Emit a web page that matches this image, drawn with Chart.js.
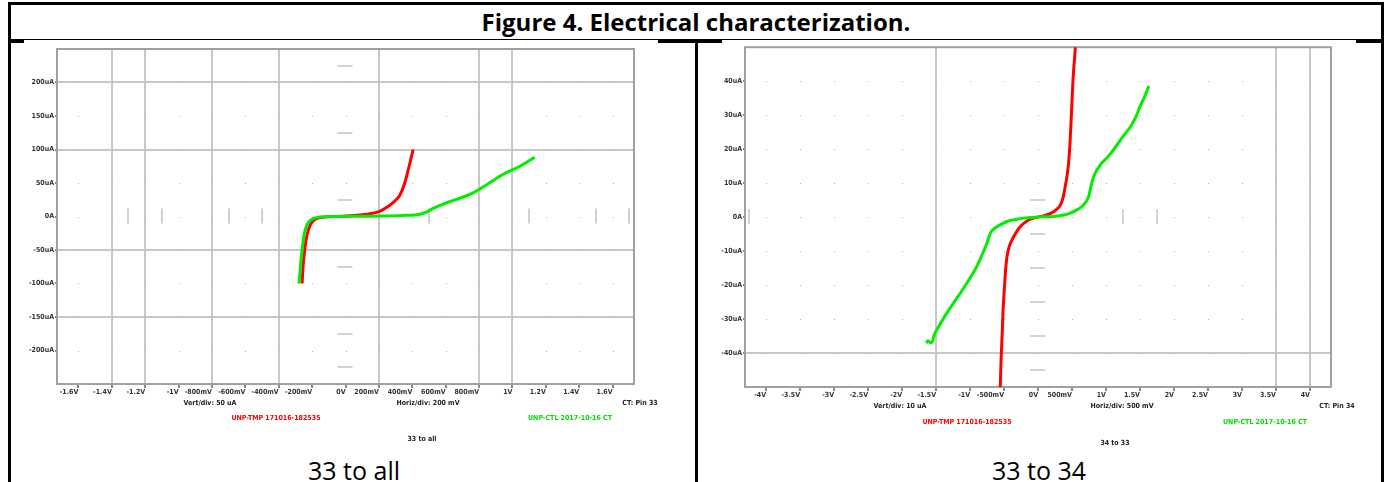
<!DOCTYPE html>
<html>
<head>
<meta charset="utf-8">
<script src="https://cdn.jsdelivr.net/npm/chart.js@4.4.1/dist/chart.umd.min.js"></script>
<style>
  html, body { margin: 0; padding: 0; background: #fff; }
  body { position: relative; width: 1387px; height: 482px; overflow: hidden; }
  .rule { position: absolute; background: #000; }
  .title { position: absolute; left: 11px; width: 1370px; top: 5px; height: 34px; line-height: 34px;
           text-align: center; font: bold 24px 'Open Sans', sans-serif; color: #000; }
  .note { position: absolute; transform: translateX(-50%); white-space: nowrap; line-height: 8px;
          font: bold 7px 'Liberation Sans Narrow', 'DejaVu Sans Condensed', sans-serif; color: #222; }
  .caption { position: absolute; transform: translateX(-50%); white-space: nowrap; line-height: 28px;
             font: 25px 'Open Sans', sans-serif; color: #000; }
  canvas { position: absolute; }
</style>
</head>
<body>
<div class="rule" style="left:8px; top:2px; width:1376px; height:3px"></div>
<div class="rule" style="left:8px; top:2px; width:3px; height:480px"></div>
<div class="rule" style="left:1381px; top:2px; width:3px; height:480px"></div>
<div class="rule" style="left:8px; top:39px; width:1376px; height:1px"></div>
<div class="rule" style="left:8px; top:40px; width:16px; height:3px"></div>
<div class="rule" style="left:658px; top:40px; width:64px; height:3px"></div>
<div class="rule" style="left:1356px; top:40px; width:28px; height:3px"></div>
<div class="rule" style="left:695px; top:40px; width:3px; height:442px"></div>
<div class="title">Figure 4. Electrical characterization.</div>

<canvas id="allChart" width="684" height="398" style="left:10px; top:42px"></canvas>
<canvas id="pinChart" width="680" height="398" style="left:699px; top:42px"></canvas>

<div class="note" style="left:210px; top:399px">Vert/div: 50 uA</div>
<div class="note" style="left:428px; top:399px">Horiz/div: 200 mV</div>
<div class="note" style="left:640px; top:399px">CT: Pin 33</div>
<div class="note" style="left:276px; top:414px; color:#ff0000">UNP-TMP 171016-182535</div>
<div class="note" style="left:570px; top:414px; color:#00dd00">UNP-CTL 2017-10-16 CT</div>
<div class="note" style="left:422px; top:435px">33 to all</div>

<div class="note" style="left:900px; top:402px">Vert/div: 10 uA</div>
<div class="note" style="left:1122px; top:402px">Horiz/div: 500 mV</div>
<div class="note" style="left:1337px; top:402px">CT: Pin 34</div>
<div class="note" style="left:967px; top:418px; color:#ff0000">UNP-TMP 171016-182535</div>
<div class="note" style="left:1265px; top:418px; color:#00dd00">UNP-CTL 2017-10-16 CT</div>
<div class="note" style="left:1115px; top:439px">34 to 33</div>

<div class="caption" style="left:354px; top:453px">33 to all</div>
<div class="caption" style="left:1039px; top:453px">33 to 34</div>

<script>
// 33 to all: voltage (V) and current (uA)
const allTmpV = [-0.26, -0.254, -0.244, -0.23, -0.21, -0.184, -0.134, -0.054, 0.046, 0.146, 0.205, 0.245, 0.285, 0.325, 0.355, 0.381, 0.405]
const allTmpI = [-100, -74, -49, -27, -12, -4.5, -1, 0, 1.4, 4, 7.8, 13.3, 20.7, 31.6, 50, 75, 100]
const allCtlV = [-0.278, -0.27, -0.26, -0.248, -0.23, -0.204, -0.164, -0.054, 0.146, 0.345, 0.445, 0.485, 0.525, 0.585, 0.645, 0.745, 0.824, 0.944, 1.044, 1.134]
const allCtlI = [-100, -74, -49, -27, -12, -4.5, -1, 0, 0.5, 1.5, 3.5, 6.5, 12, 18.5, 24, 33, 44, 63, 75, 88.5]

// 33 to 34
const pinTmpV = [-0.555, -0.543, -0.53, -0.515, -0.496, -0.476, -0.456, -0.42, -0.382, -0.32, -0.26, -0.15, -0.065, 0.05, 0.18, 0.27, 0.33, 0.37, 0.40, 0.43, 0.45, 0.47, 0.485, 0.50, 0.515, 0.535, 0.55]
const pinTmpI = [-50, -42, -36, -28, -21.4, -15.5, -11.6, -8.5, -6.7, -4.5, -2.8, -1, -0.3, 0.2, 1, 2.2, 3.6, 5.8, 9, 12.5, 15.9, 21.5, 27.6, 34, 40.4, 46, 50]
const pinCtlV = [-1.643, -1.62, -1.59, -1.56, -1.525, -1.43, -1.34, -1.24, -1.143, -1.02, -0.9, -0.82, -0.75, -0.70, -0.63, -0.55, -0.456, -0.33, -0.21, 0, 0.23, 0.38, 0.475, 0.58, 0.67, 0.745, 0.79, 0.84, 0.916, 1.03, 1.11, 1.23, 1.36, 1.44, 1.50, 1.57, 1.63]
const pinCtlI = [-37.1, -36.4, -36.9, -36.9, -34.6, -31.2, -28.2, -25.2, -22.4, -18.6, -14.5, -11, -7.6, -4.7, -3.2, -2.2, -1.3, -0.7, -0.3, 0, 0.2, 0.6, 1.2, 2.2, 3.6, 6, 10, 12.9, 15.4, 17.8, 19.8, 23.2, 26.6, 29.5, 32.5, 35.5, 38.6]

// tick values and labels
const allXTicks = [-1.6, -1.4, -1.2, -1, -0.8, -0.6, -0.4, -0.2, 0, 0.2, 0.4, 0.6, 0.8, 1, 1.2, 1.4, 1.6]
const allXLabels = ['-1.6V', '-1.4V', '-1.2V', '-1V', '-800mV', '-600mV', '-400mV', '-200mV', '0V', '200mV', '400mV', '600mV', '800mV', '1V', '1.2V', '1.4V', '1.6V']
const allYTicks = [-200, -150, -100, -50, 0, 50, 100, 150, 200]
const allYLabels = ['-200uA', '-150uA', '-100uA', '-50uA', '0A', '50uA', '100uA', '150uA', '200uA']

const pinXTicks = [-4, -3.5, -3, -2.5, -2, -1.5, -1, -0.5, 0, 0.5, 1, 1.5, 2, 2.5, 3, 3.5, 4]
const pinXLabels = ['-4V', '-3.5V', '-3V', '-2.5V', '-2V', '-1.5V', '-1V', '-500mV', '0V', '500mV', '1V', '1.5V', '2V', '2.5V', '3V', '3.5V', '4V']
const pinYTicks = [-40, -30, -20, -10, 0, 10, 20, 30, 40]
const pinYLabels = ['-40uA', '-30uA', '-20uA', '-10uA', '0A', '10uA', '20uA', '30uA', '40uA']

const tickFont = { family: "'Liberation Sans Narrow', 'DejaVu Sans Condensed', sans-serif", size: 7, weight: 'bold' }

function points(xs, ys) {
  return xs.map((x, i) => ({ x: x, y: ys[i] }))
}

function near(list, v) {
  return list.some(g => Math.abs(g - v) < 1e-6)
}

// screen furniture of the curve tracer: dots, centre dashes, frame
function makeDecor(s) {
  return {
    id: 'decor',
    beforeDatasetsDraw(chart) {
      const { ctx, chartArea: a, scales: { x, y } } = chart
      ctx.save()
      ctx.fillStyle = '#b0b0b0'
      for (const xv of s.xTicks) {
        for (const yv of s.yTicks) {
          ctx.fillRect(Math.round(x.getPixelForValue(xv)), Math.round(y.getPixelForValue(yv)), 1, 1)
        }
      }
      const x0 = x.getPixelForValue(0)
      const y0 = y.getPixelForValue(0)
      ctx.strokeStyle = '#c4c4c4'
      ctx.lineWidth = 1.5
      ctx.beginPath()
      s.hDash.forEach(v => {
        const py = Math.round(y.getPixelForValue(v))
        ctx.moveTo(x0 - 8, py)
        ctx.lineTo(x0 + 7, py)
      })
      s.vDash.forEach(v => {
        const px = Math.round(x.getPixelForValue(v))
        ctx.moveTo(px, y0 - 8)
        ctx.lineTo(px, y0 + 7)
      })
      ctx.stroke()
      ctx.strokeStyle = '#a0a0a0'
      ctx.lineWidth = 2
      ctx.strokeRect(a.left, a.top, a.right - a.left, a.bottom - a.top)
      ctx.restore()
    }
  }
}

function traceChart(id, s) {
  return new Chart(document.getElementById(id), {
    type: 'scatter',
    data: {
      datasets: [
        {
          label: 'UNP-CTL 2017-10-16 CT',
          data: points(s.ctlV, s.ctlI),
          borderColor: '#00ee00',
          backgroundColor: '#00ee00',
          showLine: true,
          borderWidth: 3,
          pointRadius: 0,
          cubicInterpolationMode: 'monotone'
        },
        {
          label: 'UNP-TMP 171016-182535',
          data: points(s.tmpV, s.tmpI),
          borderColor: '#ff0000',
          backgroundColor: '#ff0000',
          showLine: true,
          borderWidth: 3,
          pointRadius: 0,
          cubicInterpolationMode: 'monotone'
        }
      ]
    },
    options: {
      responsive: false,
      animation: false,
      devicePixelRatio: 1,
      layout: { padding: s.pad },
      plugins: {
        legend: { display: false },
        tooltip: { enabled: false }
      },
      scales: {
        x: {
          type: 'linear',
          min: s.xMin,
          max: s.xMax,
          afterBuildTicks: sc => { sc.ticks = s.xTicks.map(v => ({ value: v })) },
          afterFit: sc => { sc.height = 14 },
          ticks: {
            font: tickFont,
            color: '#333',
            padding: 0,
            align: 'end',
            autoSkip: false,
            maxRotation: 0,
            callback: (v, i) => s.xLabels[i]
          },
          grid: {
            color: c => (c.tick && near(s.gridX, c.tick.value)) ? '#c8c8c8' : 'rgba(0,0,0,0)',
            lineWidth: 2,
            tickColor: '#888',
            tickLength: 4
          },
          border: { display: false }
        },
        y: {
          type: 'linear',
          min: s.yMin,
          max: s.yMax,
          afterBuildTicks: sc => { sc.ticks = s.yTicks.map(v => ({ value: v })) },
          afterFit: sc => { sc.width = s.yWidth },
          ticks: {
            font: tickFont,
            color: '#333',
            padding: 1,
            autoSkip: false,
            callback: (v, i) => s.yLabels[i]
          },
          grid: {
            color: c => (c.tick && near(s.gridY, c.tick.value)) ? '#c8c8c8' : 'rgba(0,0,0,0)',
            lineWidth: 2,
            tickColor: '#888',
            tickLength: 2
          },
          border: { display: false }
        }
      }
    },
    plugins: [makeDecor(s)]
  })
}

traceChart('allChart', {
  tmpV: allTmpV, tmpI: allTmpI, ctlV: allCtlV, ctlI: allCtlI,
  xMin: -1.728, xMax: 1.728, yMin: -250, yMax: 250,
  xTicks: allXTicks, xLabels: allXLabels, yTicks: allYTicks, yLabels: allYLabels,
  gridX: [-1.4, -1.2, -0.8, -0.4, 0.2, 0.8, 1],
  gridY: [200, 100, -50, -150],
  hDash: [225, 125, 25, -75, -175, -225],
  vDash: [-1.3, -1.1, -0.7, -0.5, 0.5, 1.1, 1.5, 1.7],
  yWidth: 47,
  pad: { left: 0, top: 7, right: 60, bottom: 42 }
})

traceChart('pinChart', {
  tmpV: pinTmpV, tmpI: pinTmpI, ctlV: pinCtlV, ctlI: pinCtlI,
  xMin: -4.31, xMax: 4.31, yMin: -50, yMax: 50,
  xTicks: pinXTicks, xLabels: pinXLabels, yTicks: pinYTicks, yLabels: pinYLabels,
  gridX: [-1.5, 3.5, 4],
  gridY: [-40],
  hDash: [5, -5, -15, -25, -35, -45],
  vDash: [-4.25, 1.25, 1.75],
  yWidth: 46,
  pad: { left: 0, top: 5, right: 48, bottom: 39 }
})
</script>
</body>
</html>
